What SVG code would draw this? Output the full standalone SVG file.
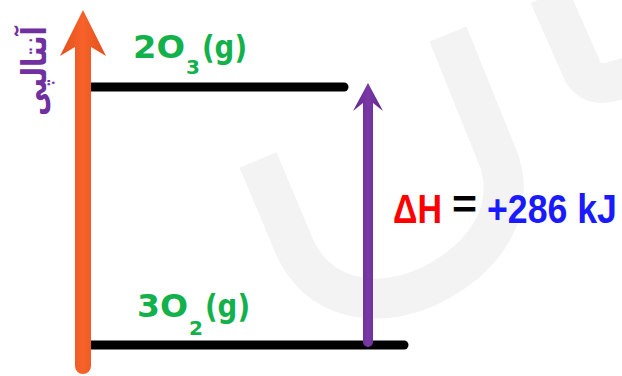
<svg xmlns="http://www.w3.org/2000/svg" width="622" height="376" viewBox="0 0 622 376">
<defs>
<linearGradient id="og" x1="0" y1="0" x2="1" y2="0">
<stop offset="0" stop-color="#e2501c"/><stop offset="0.5" stop-color="#f7622a"/><stop offset="1" stop-color="#e2501c"/>
</linearGradient>
<linearGradient id="pg" x1="0" y1="0" x2="1" y2="0">
<stop offset="0" stop-color="#5f2789"/><stop offset="0.5" stop-color="#7a38a6"/><stop offset="1" stop-color="#5f2789"/>
</linearGradient>
<style>
.wm{fill:none;stroke:#f3f3f3;stroke-width:40}
.lvl{stroke:#000;stroke-width:9;stroke-linecap:round;fill:none}
.lbl{font-family:"DejaVu Sans","Liberation Sans",sans-serif;font-weight:bold;font-size:32px;fill:#12b14b}
.sub{font-size:20px}
.dh{font-family:"Liberation Sans",Arial,sans-serif;font-weight:bold;font-size:41px}
</style>
</defs>
<rect width="622" height="376" fill="#fff"/>
<g id="watermark">
<path class="wm" d="M258,160 L295,248 C318,298 372,310 425,288 C478,264 516,218 500,163 L448,34"/>
<path class="wm" d="M549,-5 L583,72 C593,88 608,84 630,76"/>
</g>
<g id="levels">
<line class="lvl" x1="84" y1="87" x2="344" y2="87"/>
<line class="lvl" x1="84" y1="345" x2="404" y2="345"/>
</g>
<g id="connectors">
<path id="enthalpy-axis" d="M83,10 L106,56 L91,47 L91,366 A8,8 0 0 1 75,366 L75,47 L60,56 Z" fill="url(#og)"/>
<path id="dh-arrow" d="M368,83 L383,111 L373,103 L373,342 A5,5 0 0 1 363,342 L363,103 L353,111 Z" fill="url(#pg)"/>
</g>
<g id="axis-label">
<text transform="translate(46,71) rotate(-90) scale(0.8,1)" text-anchor="middle" font-family="DejaVu Sans,sans-serif" font-weight="bold" font-size="34" fill="#7030a0">آنتالپی</text>
</g>
<g id="node-o3">
<text class="lbl" x="133" y="58"><tspan textLength="52" lengthAdjust="spacingAndGlyphs">2O</tspan><tspan class="sub" x="186" y="74">3</tspan><tspan x="202" y="58" textLength="45" lengthAdjust="spacingAndGlyphs">(g)</tspan></text>
</g>
<g id="node-o2">
<text class="lbl" x="137" y="317"><tspan textLength="51" lengthAdjust="spacingAndGlyphs">3O</tspan><tspan class="sub" x="189" y="335">2</tspan><tspan x="205" y="317" textLength="45" lengthAdjust="spacingAndGlyphs">(g)</tspan></text>
</g>
<g id="dh-label">
<text class="dh" x="393" y="223" fill="#ff0000" textLength="49" lengthAdjust="spacingAndGlyphs">ΔH</text>
<text class="dh" x="452" y="218" fill="#000" textLength="25" lengthAdjust="spacingAndGlyphs">=</text>
<text class="dh" transform="translate(487,223) scale(0.87,1)" fill="#1a1aff">+286 kJ</text>
</g>
</svg>
